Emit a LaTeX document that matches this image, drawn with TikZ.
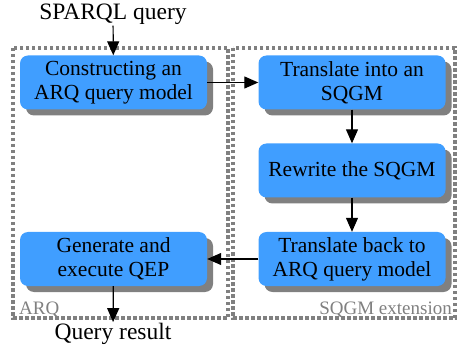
\documentclass[tikz,border=0pt]{standalone}
\usepackage{fontspec}
\setmainfont{Liberation Serif}
\usetikzlibrary{arrows.meta,shadows}
\definecolor{boxblue}{RGB}{64,158,255}
\definecolor{shadowgray}{RGB}{128,128,128}
\tikzset{
  stage/.style={draw=none,fill=boxblue,rounded corners=8pt,minimum width=187pt,
    minimum height=54pt,align=center,inner sep=2pt,
    font=\fontsize{21.5}{24}\selectfont,
    drop shadow={shadow xshift=6pt,shadow yshift=-6pt,fill=shadowgray,opacity=1}},
  flow/.style={line width=1.2pt,-{Triangle[length=14pt,width=12pt]}},
  part/.style={draw=shadowgray,line width=3.5pt,dash pattern=on 3.5pt off 2.5pt},
  partname/.style={text=shadowgray,font=\fontsize{19}{22}\selectfont,inner sep=0pt},
  ioname/.style={font=\fontsize{23.5}{26}\selectfont,inner sep=1pt}
}
\begin{document}
\begin{tikzpicture}[x=1pt,y=-1pt]
\useasboundingbox (0,0) rectangle (460,347);
% the two parts
\draw[part] (13,48) rectangle (228,318);
\draw[part] (233,48) rectangle (455,318);
\node[partname,anchor=base west] (arqname) at (19,314) {ARQ};
\node[partname,anchor=base east] (extname) at (452,314) {SQGM extension};
% input and output
\node[ioname] (sparql) at (113,14) {SPARQL query};
\node[ioname] (result) at (113,334) {Query result};
% stages
\node[stage] (construct) at (113.5,82.5) {Constructing an\\ARQ query model};
\node[stage] (intosqgm) at (352,82.5) {Translate into an\\SQGM};
\node[stage] (rewrite) at (352,170.5) {Rewrite the SQGM};
\node[stage] (backtoarq) at (352,259) {Translate back to\\ARQ query model};
\node[stage] (execute) at (113.5,259) {Generate and\\execute QEP};
\draw[flow] (sparql) -- (construct);
\draw[flow] (construct) -- (intosqgm);
\draw[flow] (intosqgm) -- (rewrite);
\draw[flow] (rewrite) -- (backtoarq);
\draw[flow] (backtoarq) -- (execute);
\draw[flow] (execute) -- (result);
\end{tikzpicture}
\end{document}
